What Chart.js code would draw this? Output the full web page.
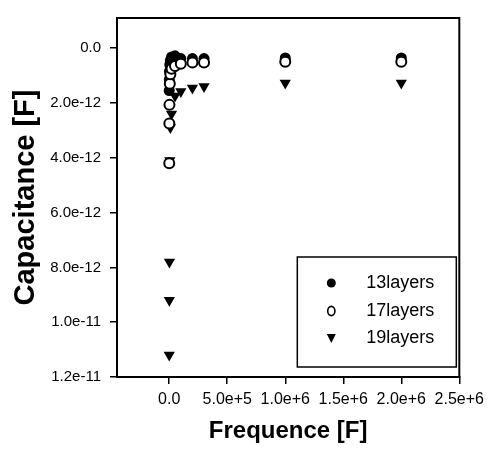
<!DOCTYPE html>
<html>
<head>
<meta charset="utf-8">
<script src="https://cdn.jsdelivr.net/npm/chart.js@4.4.0/dist/chart.umd.min.js"></script>
<style>
  html, body { margin: 0; padding: 0; background: #fff; }
  #wrap { width: 490px; height: 450px; }
</style>
</head>
<body>
<div id="wrap"><canvas id="capChart"></canvas></div>
<script>
// measurement frequencies, shared by the three samples
const frequencies = [100, 1000, 2000, 5000, 10000, 20000, 50000, 100000, 200000, 300000, 1000000, 2000000];

// capacitance per sample
const cap13 = [1.55e-12, 1.15e-12, 0.85e-12, 0.6e-12, 0.45e-12, 0.32e-12, 0.28e-12, 0.38e-12, 0.38e-12, 0.38e-12, 0.36e-12, 0.36e-12];
const cap17 = [4.2e-12, 2.75e-12, 2.07e-12, 1.3e-12, 0.95e-12, 0.75e-12, 0.65e-12, 0.57e-12, 0.52e-12, 0.52e-12, 0.5e-12, 0.5e-12];
const cap19 = [11.2e-12, 9.2e-12, 7.8e-12, 4.1e-12, 2.9e-12, 2.4e-12, 1.75e-12, 1.58e-12, 1.45e-12, 1.4e-12, 1.27e-12, 1.27e-12];

const seriesNames = ["13layers", "17layers", "19layers"];

const xTicks = [0, 5e5, 1e6, 1.5e6, 2e6, 2.5e6];
const xTickLabels = ["0.0", "5.0e+5", "1.0e+6", "1.5e+6", "2.0e+6", "2.5e+6"];
const yTicks = [0, 2e-12, 4e-12, 6e-12, 8e-12, 1e-11, 1.2e-11];
const yTickLabels = ["0.0", "2.0e-12", "4.0e-12", "6.0e-12", "8.0e-12", "1.0e-11", "1.2e-11"];

const toPoints = ys => frequencies.map((f, i) => ({ x: f, y: ys[i] }));

Chart.defaults.font.family = "'Liberation Sans', Arial, sans-serif";
Chart.defaults.color = "#000";

// small marker drawings for the legend box
function legendMarker(ctx, kind, x, y) {
    ctx.save();
    ctx.fillStyle = "#000";
    ctx.strokeStyle = "#000";
    if (kind === 0) {
        ctx.beginPath();
        ctx.arc(x, y, 4.5, 0, Math.PI * 2);
        ctx.fill();
    } else if (kind === 1) {
        ctx.lineWidth = 1.6;
        ctx.beginPath();
        ctx.ellipse(x, y, 3.6, 4.6, 0, 0, Math.PI * 2);
        ctx.stroke();
    } else {
        ctx.beginPath();
        ctx.moveTo(x - 4.5, y - 4);
        ctx.lineTo(x + 4.5, y - 4);
        ctx.lineTo(x, y + 5);
        ctx.closePath();
        ctx.fill();
    }
    ctx.restore();
}

// frame around the plot + legend in the lower right corner
const frameAndLegend = {
    id: "frameAndLegend",
    afterDraw(chart) {
        const { ctx, chartArea: a } = chart;
        ctx.save();
        ctx.strokeStyle = "#000";
        ctx.lineWidth = 2;
        ctx.strokeRect(a.left, a.top, a.right - a.left, a.bottom - a.top);

        const boxL = a.right - 162, boxR = a.right - 3;
        const boxT = a.bottom - 120, boxB = a.bottom - 10;
        ctx.lineWidth = 1.5;
        ctx.strokeRect(boxL, boxT, boxR - boxL, boxB - boxT);

        ctx.font = "18px 'Liberation Sans', Arial, sans-serif";
        ctx.textBaseline = "middle";
        ctx.fillStyle = "#000";
        const rows = [boxT + 26, boxT + 54, boxT + 81];
        seriesNames.forEach((name, i) => {
            legendMarker(ctx, i, boxL + 34, rows[i]);
            ctx.fillText(name, boxL + 69, rows[i]);
        });
        ctx.restore();
    }
};

new Chart(document.getElementById("capChart"), {
    type: "scatter",
    data: {
        datasets: [
            {
                label: seriesNames[0],
                data: toPoints(cap13),
                pointStyle: "circle",
                pointRadius: 5.5,
                backgroundColor: "#000",
                borderColor: "#000",
                borderWidth: 0,
                order: 3
            },
            {
                label: seriesNames[1],
                data: toPoints(cap17),
                pointStyle: "circle",
                pointRadius: 5,
                backgroundColor: "#fff",
                borderColor: "#000",
                borderWidth: 2,
                order: 1
            },
            {
                label: seriesNames[2],
                data: toPoints(cap19),
                pointStyle: "triangle",
                rotation: 180,
                pointRadius: 6.5,
                backgroundColor: "#000",
                borderColor: "#000",
                borderWidth: 0,
                order: 2
            }
        ]
    },
    options: {
        responsive: true,
        maintainAspectRatio: false,
        animation: false,
        layout: { padding: { left: 0, right: 27, top: 11, bottom: 0 } },
        plugins: {
            legend: { display: false },
            tooltip: { enabled: false }
        },
        scales: {
            x: {
                type: "linear",
                min: -4.5e5,
                max: 2.5e6,
                afterBuildTicks: s => { s.ticks = xTicks.map(v => ({ value: v })); },
                afterFit: s => { s.height = 73; },
                ticks: {
                    callback: v => xTickLabels[xTicks.indexOf(v)],
                    font: { size: 16 },
                    padding: 6,
                    maxRotation: 0,
                    autoSkip: false
                },
                grid: { drawOnChartArea: false, drawTicks: true, tickLength: 7, color: "#000", lineWidth: 1.5 },
                border: { color: "#000", width: 2 },
                title: {
                    display: true,
                    text: "Frequence [F]",
                    font: { size: 24, weight: "bold", lineHeight: 1 },
                    padding: { top: 0, bottom: 7 }
                }
            },
            y: {
                type: "linear",
                reverse: true,
                min: -1.1e-12,
                max: 1.2e-11,
                afterBuildTicks: s => { s.ticks = yTicks.map(v => ({ value: v })); },
                afterFit: s => { s.width = 117; },
                ticks: {
                    callback: v => yTickLabels[yTicks.indexOf(v)],
                    font: { family: "'Liberation Sans Narrow', 'Liberation Sans', Arial, sans-serif", size: 15 },
                    padding: 9,
                    autoSkip: false
                },
                grid: { drawOnChartArea: false, drawTicks: true, tickLength: 7, color: "#000", lineWidth: 1.5 },
                border: { color: "#000", width: 2 },
                title: {
                    display: true,
                    text: "Capacitance [F]",
                    font: { size: 29, weight: "bold", lineHeight: 1 },
                    padding: { top: 11, bottom: 0 }
                }
            }
        }
    },
    plugins: [frameAndLegend]
});
</script>
</body>
</html>
